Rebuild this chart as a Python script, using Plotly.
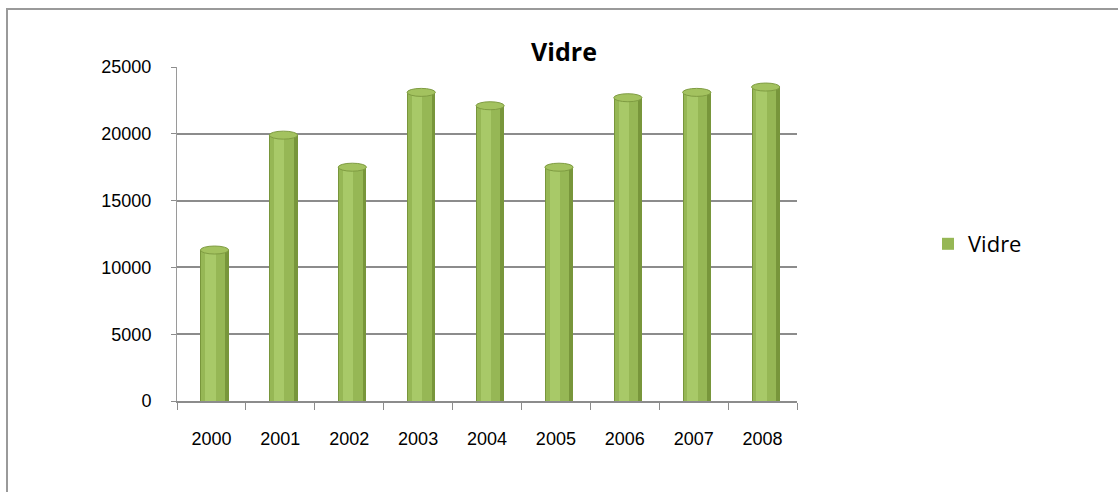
import plotly.graph_objects as go

years = ["2000", "2001", "2002", "2003", "2004", "2005", "2006", "2007", "2008"]
vidre = [11300, 19900, 17500, 23100, 22100, 17500, 22700, 23100, 23500]
y_ticks = [0, 5000, 10000, 15000, 20000, 25000]
title_text = "Vidre"
series_name = "Vidre"

W, H = 1118, 492
fig = go.Figure()

# cylinder-like bars: dark body, main body, highlight
fig.add_trace(go.Bar(x=years, y=vidre, width=0.41, offset=-0.16,
                     marker=dict(color="#78963b", line=dict(width=0)),
                     showlegend=False, hoverinfo="skip"))
fig.add_trace(go.Bar(x=years, y=vidre, width=0.34, offset=-0.145,
                     marker=dict(color="#96b755", line=dict(width=0)),
                     name=series_name, showlegend=True))
fig.add_trace(go.Bar(x=years, y=vidre, width=0.15, offset=-0.09,
                     marker=dict(color="#a8c968", line=dict(width=0)),
                     showlegend=False, hoverinfo="skip"))

shapes = []
for i, v in enumerate(vidre):
    shapes.append(dict(type="circle", xref="x", yref="y",
                       x0=i - 0.16, x1=i + 0.25, y0=v - 300, y1=v + 300,
                       fillcolor="#a3c25f", line=dict(color="#7f9c42", width=1),
                       layer="above"))
# chart border
shapes.append(dict(type="rect", xref="paper", yref="paper",
                   x0=7 / W, x1=1.05, y0=-0.1, y1=1 - 9 / H,
                   line=dict(color="#9a9a9a", width=2), fillcolor="rgba(0,0,0,0)"))

fig.update_layout(
    width=W, height=H,
    margin=dict(l=0, r=0, t=0, b=0, pad=0),
    paper_bgcolor="white", plot_bgcolor="white",
    barmode="overlay",
    bargap=0,
    shapes=shapes,
    title=dict(text="<b>" + title_text + "</b>", x=564 / W, xanchor="center",
               y=1 - 52 / H, yanchor="middle",
               font=dict(family="Open Sans, Lato, sans-serif", size=25, color="black")),
    legend=dict(x=928 / W, y=1 - 244 / H, xanchor="left", yanchor="middle",
                font=dict(family="Open Sans, Lato, sans-serif", size=22, color="black"),
                itemwidth=30, bgcolor="rgba(0,0,0,0)"),
    font=dict(family="Liberation Sans, Arial, sans-serif", size=18, color="black"),
)

fig.update_xaxes(domain=[177 / W, 797 / W], range=[-0.5, 8.5],
                 showline=True, linecolor="#8c8c8c", linewidth=2,
                 ticks="outside", ticklen=7, tickcolor="#8c8c8c", tickwidth=1,
                 tickson="boundaries", showgrid=False, ticklabelstandoff=20,
                 tickfont=dict(size=18), automargin=False)
fig.update_yaxes(domain=[(H - 401) / H, (H - 67) / H], range=[0, 25000],
                 tickvals=y_ticks, tickformat="d", showline=True, linecolor="#9a9a9a", linewidth=1,
                 ticks="outside", ticklen=5, tickcolor="#8c8c8c",
                 showgrid=True, gridcolor="#8c8c8c", gridwidth=2,
                 zeroline=False, ticklabelstandoff=16,
                 tickfont=dict(size=18), automargin=False)

fig.write_html("out.html", config={"displayModeBar": False},
               post_script="document.body.style.margin='0';document.body.style.overflow='hidden';")
